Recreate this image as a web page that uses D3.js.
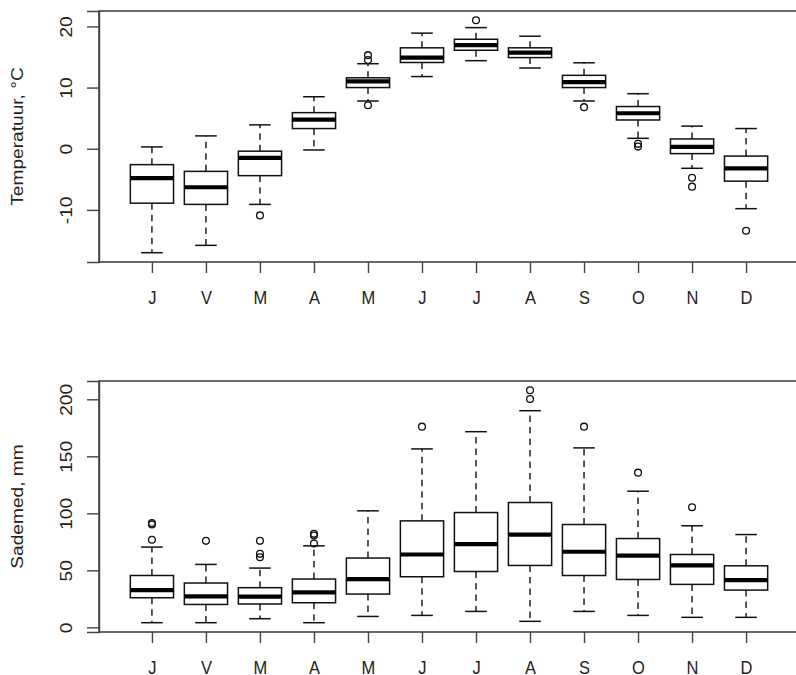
<!DOCTYPE html>
<html>
<head>
<meta charset="utf-8">
<script src="https://cdn.jsdelivr.net/npm/d3@7/dist/d3.min.js"></script>
<style>
  html, body { margin: 0; padding: 0; background: #fff; }
  svg { display: block; }
  text { font-family: "Liberation Sans", Arial, Helvetica, sans-serif; fill: #222; }
</style>
</head>
<body>
<svg id="chart" width="796" height="675"></svg>
<script>
// ---- Data ----
const months = ["J", "V", "M", "A", "M", "J", "J", "A", "S", "O", "N", "D"];

// Temperature (°C)
const tempLow  = [-17.0, -15.8, -9.1, -0.2,  7.8, 11.8, 14.4, 13.2,  7.8, 1.7, -3.2, -9.8];
const tempQ1   = [ -8.9,  -9.1, -4.4,  3.3, 10.0, 14.1, 16.1, 14.9, 10.0, 4.7, -0.8, -5.3];
const tempMed  = [ -4.8,  -6.3, -1.5,  4.75, 11.0, 14.9, 16.95, 15.7, 10.9, 5.8, 0.3, -3.2];
const tempQ3   = [ -2.6,  -3.7, -0.4,  5.9, 11.6, 16.5, 17.9, 16.5, 12.0, 6.9, 1.6, -1.2];
const tempHigh = [  0.3,   2.1,  3.9,  8.5, 13.9, 18.9, 19.8, 18.4, 14.05, 9.0, 3.7, 3.3];
const tempOut  = [[], [], [-10.9], [], [15.3, 14.5, 7.1], [], [21.0], [], [6.8], [0.8, 0.35], [-4.75, -6.2], [-13.4]];
const tempTicks = [-10, 0, 10, 20];
const tempTitle = "Temperatuur, °C";

// Precipitation (mm)
const precLow  = [ 4.1,  4.1,  7.6,  4.1,   9.6,  10.5,  14.0,   5.3,  14.0,  10.5,   8.8,  8.8];
const precQ1   = [26.0, 20.1, 20.5, 21.6,  29.2,  44.4,  49.0,  54.3,  45.5,  42.0,  37.7, 32.7];
const precMed  = [32.7, 27.2, 26.9, 30.7,  42.4,  63.9,  73.0,  81.4,  66.3,  63.0,  54.3, 41.5];
const precQ3   = [45.5, 38.9, 34.8, 42.4,  60.8,  93.4, 100.7, 109.5,  90.2,  77.9,  63.9, 54.0];
const precHigh = [70.4, 55.2, 52.0, 71.5, 102.2, 156.5, 171.6, 190.0, 157.4, 119.4,  89.1, 81.4];
const precOut  = [[91.5, 90.3, 76.8], [75.9], [75.9, 64.5, 61.5], [82.0, 80.5, 73.5], [], [176.0], [], [207.9, 200.3], [176.0], [135.7], [105.4], []];
const precTicks = [0, 50, 100, 150, 200];
const precTitle = "Sademed, mm";

// ---- Drawing ----
const svg = d3.select("#chart");
const FS = 16.5, VS = 1.16;   // font size and vertical stretch of the original image

function panel(opts) {
  const { top, bottom, low, q1, med, q3, high, out, ticks, title } = opts;
  const left = 99, right = 799;
  const n = months.length;
  const x = d3.scaleLinear().domain([0.5 - 0.04 * n, n + 0.5 + 0.04 * n]).range([left, right]);
  const allVals = low.concat(high, out.flat());
  const mn = d3.min(allVals), mx = d3.max(allVals), pad = 0.04 * (mx - mn);
  const y = d3.scaleLinear().domain([mn - pad, mx + pad]).range([bottom, top]);

  const g = svg.append("g");
  const bw = (x(1.4) - x(1)) ; // half box width (boxwex 0.8)
  const sw = bw / 2;           // half staple width

  const data = months.map((m, i) => ({ i, m, lo: low[i], q1: q1[i], med: med[i], q3: q3[i], hi: high[i], out: out[i] }));
  const boxes = g.selectAll("g.box").data(data).join("g").attr("class", "box");

  // whiskers (dashed)
  boxes.append("line")
    .attr("x1", d => x(d.i + 1)).attr("x2", d => x(d.i + 1))
    .attr("y1", d => y(d.q3)).attr("y2", d => y(d.hi))
    .attr("stroke", "#111").attr("stroke-width", 1.4).attr("stroke-dasharray", "6.5,5");
  boxes.append("line")
    .attr("x1", d => x(d.i + 1)).attr("x2", d => x(d.i + 1))
    .attr("y1", d => y(d.q1)).attr("y2", d => y(d.lo))
    .attr("stroke", "#111").attr("stroke-width", 1.4).attr("stroke-dasharray", "6.5,5");
  // staples
  boxes.append("line")
    .attr("x1", d => x(d.i + 1) - sw).attr("x2", d => x(d.i + 1) + sw)
    .attr("y1", d => y(d.hi)).attr("y2", d => y(d.hi))
    .attr("stroke", "#111").attr("stroke-width", 1.5);
  boxes.append("line")
    .attr("x1", d => x(d.i + 1) - sw).attr("x2", d => x(d.i + 1) + sw)
    .attr("y1", d => y(d.lo)).attr("y2", d => y(d.lo))
    .attr("stroke", "#111").attr("stroke-width", 1.5);
  // box
  boxes.append("rect")
    .attr("x", d => x(d.i + 1) - bw).attr("width", 2 * bw)
    .attr("y", d => y(d.q3)).attr("height", d => y(d.q1) - y(d.q3))
    .attr("fill", "#fff").attr("stroke", "#111").attr("stroke-width", 1.5);
  // median
  boxes.append("line")
    .attr("x1", d => x(d.i + 1) - bw).attr("x2", d => x(d.i + 1) + bw)
    .attr("y1", d => y(d.med)).attr("y2", d => y(d.med))
    .attr("stroke", "#000").attr("stroke-width", 4.2);
  // outliers
  boxes.selectAll("circle").data(d => d.out.map(v => ({ i: d.i, v }))).join("circle")
    .attr("cx", d => x(d.i + 1)).attr("cy", d => y(d.v)).attr("r", 3.4)
    .attr("fill", "none").attr("stroke", "#111").attr("stroke-width", 1.3);

  // frame
  g.append("rect").attr("x", left).attr("y", top).attr("width", right - left).attr("height", bottom - top)
    .attr("fill", "none").attr("stroke", "#444").attr("stroke-width", 1.6);

  // y axis
  const ya = g.append("g").attr("transform", `translate(${left},0)`)
    .call(d3.axisLeft(y).tickValues(ticks).tickSize(12).tickFormat(d3.format("d")));
  ya.select(".domain").attr("stroke", "#444").attr("stroke-width", 1.4);
  ya.selectAll(".tick line").attr("stroke", "#444").attr("stroke-width", 1.4);
  ya.selectAll(".tick text").remove();
  ya.selectAll(".tick").append("text")
    .attr("transform", `translate(${72 - left},0) scale(1,${VS}) rotate(-90)`)
    .attr("text-anchor", "middle").attr("font-size", FS).attr("fill", "#222")
    .attr("font-family", "Liberation Sans, Arial, sans-serif")
    .text(d => String(d).replace("-", "-"));

  // x axis
  const xa = g.append("g").attr("transform", `translate(0,${bottom})`)
    .call(d3.axisBottom(x).tickValues(d3.range(1, n + 1)).tickSize(11).tickFormat(""));
  xa.select(".domain").remove();
  xa.selectAll(".tick line").attr("stroke", "#444").attr("stroke-width", 1.4);
  xa.selectAll(".tick").append("text")
    .attr("transform", `translate(0,42) scale(1,${VS})`)
    .attr("text-anchor", "middle").attr("font-size", FS).attr("fill", "#222")
    .attr("font-family", "Liberation Sans, Arial, sans-serif")
    .text(d => months[d - 1]);

  // y title
  g.append("text")
    .attr("transform", `translate(23,${(top + bottom) / 2}) scale(1,${VS}) rotate(-90)`)
    .attr("text-anchor", "middle").attr("font-size", FS)
    .text(title);
}

panel({ top: 11, bottom: 262, low: tempLow, q1: tempQ1, med: tempMed, q3: tempQ3, high: tempHigh, out: tempOut, ticks: tempTicks, title: tempTitle });
panel({ top: 381, bottom: 632, low: precLow, q1: precQ1, med: precMed, q3: precQ3, high: precHigh, out: precOut, ticks: precTicks, title: precTitle });
</script>
</body>
</html>
